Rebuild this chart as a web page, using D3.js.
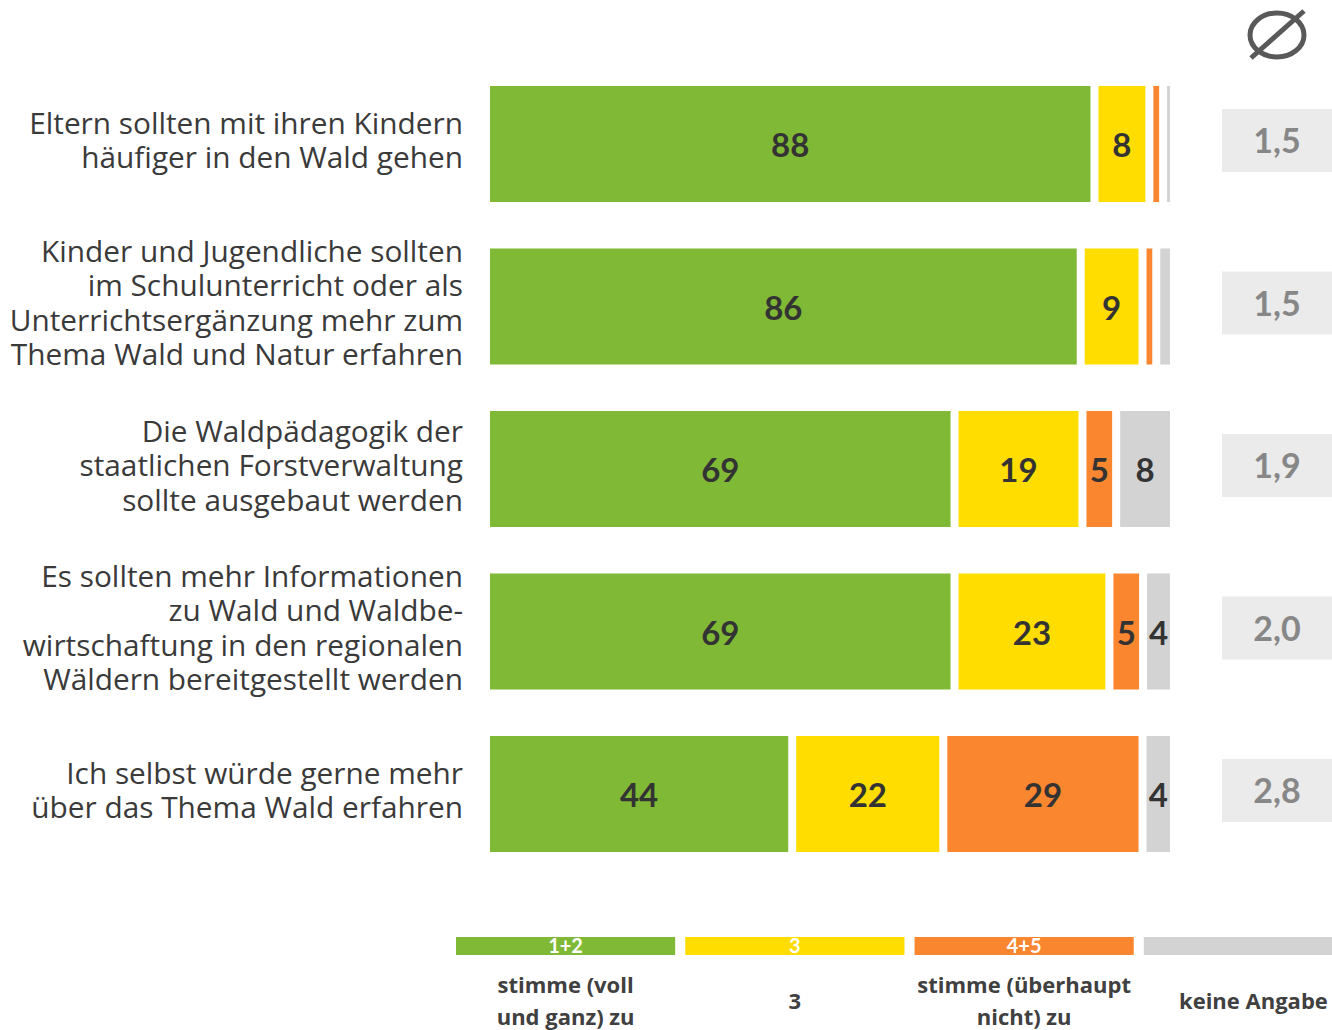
<!DOCTYPE html>
<html lang="de">
<head>
<meta charset="utf-8">
<script src="https://cdn.jsdelivr.net/npm/d3@7"></script>
<style>
  html, body { margin: 0; padding: 0; background: #ffffff; }
  svg { display: block; }
</style>
</head>
<body>
<svg id="chart" width="1332" height="1030"></svg>
<script>
// Statements (one entry per bar, split into display lines)
const categories = [
  ["Eltern sollten mit ihren Kindern", "häufiger in den Wald gehen"],
  ["Kinder und Jugendliche sollten", "im Schulunterricht oder als", "Unterrichtsergänzung mehr zum", "Thema Wald und Natur erfahren"],
  ["Die Waldpädagogik der", "staatlichen Forstverwaltung", "sollte ausgebaut werden"],
  ["Es sollten mehr Informationen", "zu Wald und Waldbe-", "wirtschaftung in den regionalen", "Wäldern bereitgestellt werden"],
  ["Ich selbst würde gerne mehr", "über das Thema Wald erfahren"]
];

// Answer shares in percent
const agree     = [88, 86, 69, 69, 44];  // 1+2
const neutral   = [8, 9, 19, 23, 22];    // 3
const disagree  = [2, 2, 5, 5, 29];      // 4+5
const noAnswer  = [1, 2, 8, 4, 4];       // keine Angabe

// Mean score per statement
const averages = [1.5, 1.5, 1.9, 2.0, 2.8];

// Legend
const legendKeys   = ["1+2", "3", "4+5", ""];
const legendLabels = [["stimme (voll", "und ganz) zu"], ["3"], ["stimme (überhaupt", "nicht) zu"], ["keine Angabe"]];
const seriesColors = ["#80b935", "#ffdd00", "#fa862f", "#d3d3d3"];

const series = [agree, neutral, disagree, noAnswer];

const svg = d3.select("#chart");
const FONT = "Lato, 'Open Sans', sans-serif";
const TEXT_FONT = "'Open Sans', Lato, sans-serif";
const textColor = "#3a3a3a";

const y = d3.scaleBand()
  .domain(d3.range(categories.length))
  .range([62.75, 875.25])
  .paddingInner(0.286)
  .paddingOuter(0.143);

const barLeft = 490, barRight = 1170, gap = 4;

categories.forEach((lines, i) => {
  const vals = series.map(s => s[i]);
  const total = d3.sum(vals);
  const x = d3.scaleLinear().domain([0, total]).range([barLeft, barRight]);
  const cum = d3.cumsum(vals);
  const g = svg.append("g");
  const cy = y(i) + y.bandwidth() / 2;

  vals.forEach((v, k) => {
    const c0 = k === 0 ? 0 : cum[k - 1];
    const c1 = cum[k];
    const x0 = x(c0) + (k > 0 ? gap : 0);
    const x1 = x(c1) - (k < vals.length - 1 ? gap : 0);
    g.append("rect")
      .attr("x", x0)
      .attr("y", y(i))
      .attr("width", Math.max(0, x1 - x0))
      .attr("height", y.bandwidth())
      .attr("fill", seriesColors[k]);
    if (v >= 4) {
      g.append("text")
        .attr("x", (x0 + x1) / 2)
        .attr("y", cy + 13)
        .attr("text-anchor", "middle")
        .attr("font-family", FONT)
        .attr("font-weight", 700)
        .attr("font-size", 33)
        .attr("fill", "#333333")
        .text(v);
    }
  });

  // statement text, right aligned
  const lh = 34.5;
  const t = g.append("text")
    .attr("text-anchor", "end")
    .attr("font-family", TEXT_FONT)
    .attr("font-size", 29.8)
    .attr("fill", textColor);
  lines.forEach((ln, j) => {
    t.append("tspan")
      .attr("x", 463)
      .attr("y", cy + (j - (lines.length - 1) / 2) * lh + 7)
      .text(ln);
  });

  // mean box
  g.append("rect")
    .attr("x", 1222)
    .attr("y", cy - 35)
    .attr("width", 110)
    .attr("height", 63)
    .attr("fill", "#ebebeb");
  g.append("text")
    .attr("x", 1277)
    .attr("y", cy + 9)
    .attr("text-anchor", "middle")
    .attr("font-family", FONT)
    .attr("font-weight", 700)
    .attr("font-size", 34)
    .attr("fill", "#878787")
    .text(d3.format(".1f")(averages[i]).replace(".", ","));
});

// average sign above the mean column
const avgSign = svg.append("g").attr("stroke", "#595959").attr("stroke-width", 5).attr("fill", "none");
avgSign.append("ellipse").attr("cx", 1277).attr("cy", 35).attr("rx", 27).attr("ry", 22);
avgSign.append("line").attr("x1", 1251).attr("y1", 58).attr("x2", 1304).attr("y2", 11);

// legend
const lx = d3.scaleBand()
  .domain(legendKeys.map((d, i) => i))
  .range([456, 1363])
  .paddingInner(0.044);

legendKeys.forEach((key, i) => {
  const g = svg.append("g");
  g.append("rect")
    .attr("x", lx(i))
    .attr("y", 937)
    .attr("width", lx.bandwidth())
    .attr("height", 18)
    .attr("fill", seriesColors[i]);
  g.append("text")
    .attr("x", lx(i) + lx.bandwidth() / 2)
    .attr("y", 953)
    .attr("text-anchor", "middle")
    .attr("font-family", FONT)
    .attr("font-weight", 700)
    .attr("font-size", 20)
    .attr("fill", "#ffffff")
    .text(key);
  const lab = legendLabels[i];
  const t = g.append("text")
    .attr("text-anchor", "middle")
    .attr("font-family", TEXT_FONT)
    .attr("font-weight", 700)
    .attr("font-size", 22)
    .attr("fill", "#404040");
  lab.forEach((ln, j) => {
    t.append("tspan")
      .attr("x", lx(i) + lx.bandwidth() / 2)
      .attr("y", 1009 + (j - (lab.length - 1) / 2) * 32)
      .text(ln);
  });
});
</script>
</body>
</html>
